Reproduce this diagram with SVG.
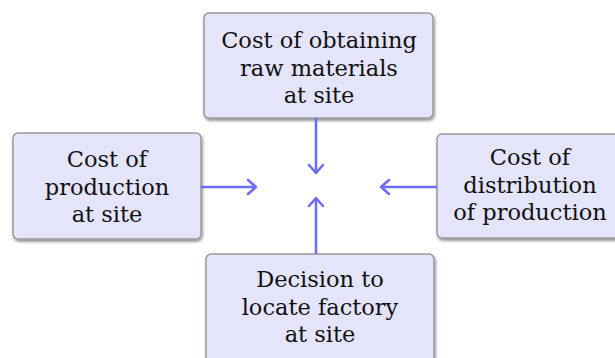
<svg xmlns="http://www.w3.org/2000/svg" width="615" height="358" viewBox="0 0 615 358">
<style>
.box{fill:#e4e4fa;stroke:#9a9a9a;stroke-width:1.5}
.t{font-family:"DejaVu Serif","Liberation Serif",serif;font-size:22.5px;fill:#111;text-anchor:middle}
.c{stroke:#6b6bff;stroke-width:2.5;fill:none}
.h{stroke:#6b6bff;stroke-width:2.5;fill:none;stroke-linecap:round;stroke-linejoin:round}
</style>
<defs>
<filter id="sh" x="-10%" y="-10%" width="120%" height="130%">
<feDropShadow dx="1" dy="2" stdDeviation="1.5" flood-color="#000" flood-opacity="0.45"/>
</filter>
</defs>
<rect width="615" height="358" fill="#fff"/>
<g id="top">
<rect class="box" x="204" y="13" width="229" height="105" rx="5" filter="url(#sh)"/>
<text class="t" x="319" y="48">Cost of obtaining</text>
<text class="t" x="319" y="76">raw materials</text>
<text class="t" x="319" y="103">at site</text>
</g>
<g id="left">
<rect class="box" x="13" y="133" width="188" height="106" rx="5" filter="url(#sh)"/>
<text class="t" x="107" y="167">Cost of</text>
<text class="t" x="107" y="195">production</text>
<text class="t" x="107" y="222">at site</text>
</g>
<g id="right">
<rect class="box" x="437" y="134" width="190" height="104" rx="5" filter="url(#sh)"/>
<text class="t" x="530" y="165">Cost of</text>
<text class="t" x="530" y="193">distribution</text>
<text class="t" x="530" y="220">of production</text>
</g>
<g id="bottom">
<rect class="box" x="206" y="254" width="228" height="115" rx="5" filter="url(#sh)"/>
<text class="t" x="320" y="287">Decision to</text>
<text class="t" x="320" y="315">locate factory</text>
<text class="t" x="320" y="342">at site</text>
</g>
<g id="connectors">
<line class="c" x1="316" y1="118" x2="316" y2="173"/>
<polyline class="h" points="309,165 316,173 323,165"/>
<line class="c" x1="201" y1="187" x2="256" y2="187"/>
<polyline class="h" points="248,180 256,187 248,194"/>
<line class="c" x1="437" y1="187" x2="381" y2="187"/>
<polyline class="h" points="389,180 381,187 389,194"/>
<line class="c" x1="316" y1="254" x2="316" y2="198"/>
<polyline class="h" points="309,206 316,198 323,206"/>
</g>
</svg>
